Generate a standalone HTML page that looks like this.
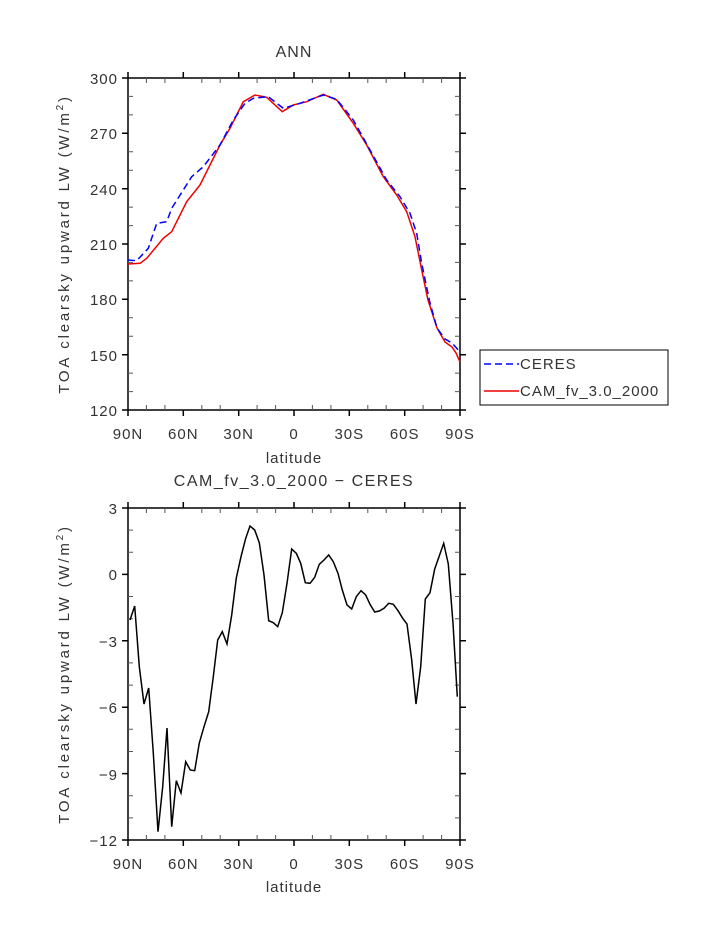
<!DOCTYPE html>
<html><head><meta charset="utf-8"><style>body{margin:0;background:#fff}svg{display:block}text{font-family:"Liberation Sans",sans-serif;font-size:15px;fill:#333;letter-spacing:1px}</style></head><body>
<svg width="723" height="935" viewBox="0 0 723 935" xmlns="http://www.w3.org/2000/svg">
<g stroke="#000" stroke-width="1.5" fill="none">
<rect x="128" y="78" width="332" height="332"/>
<rect x="128" y="508" width="332" height="332"/>
<path d="M128,78v-6M183.3,78v-6M238.7,78v-6M294,78v-6M349.3,78v-6M404.7,78v-6M460,78v-6M128,410v6M183.3,410v6M238.7,410v6M294,410v6M349.3,410v6M404.7,410v6M460,410v6
M128,78h-6M128,133.3h-6M128,188.7h-6M128,244h-6M128,299.3h-6M128,354.7h-6M128,410h-6M460,78h6M460,133.3h6M460,188.7h6M460,244h6M460,299.3h6M460,354.7h6M460,410h6
M128,508v-6M183.3,508v-6M238.7,508v-6M294,508v-6M349.3,508v-6M404.7,508v-6M460,508v-6M128,840v6M183.3,840v6M238.7,840v6M294,840v6M349.3,840v6M404.7,840v6M460,840v6
M128,508h-6M128,574.4h-6M128,640.8h-6M128,707.2h-6M128,773.6h-6M128,840h-6M460,508h6M460,574.4h6M460,640.8h6M460,707.2h6M460,773.6h6M460,840h6"/>
</g>
<g stroke="#555" stroke-width="1" fill="none">
<path d="M146.4,78v5M164.9,78v5M201.8,78v5M220.2,78v5M257.1,78v5M275.6,78v5M312.4,78v5M330.9,78v5M367.8,78v5M386.2,78v5M423.1,78v5M441.6,78v5
M146.4,410v-5M164.9,410v-5M201.8,410v-5M220.2,410v-5M257.1,410v-5M275.6,410v-5M312.4,410v-5M330.9,410v-5M367.8,410v-5M386.2,410v-5M423.1,410v-5M441.6,410v-5
M128,96.4h5M128,114.9h5M128,151.8h5M128,170.2h5M128,207.1h5M128,225.6h5M128,262.4h5M128,280.9h5M128,317.8h5M128,336.2h5M128,373.1h5M128,391.6h5
M460,96.4h-5M460,114.9h-5M460,151.8h-5M460,170.2h-5M460,207.1h-5M460,225.6h-5M460,262.4h-5M460,280.9h-5M460,317.8h-5M460,336.2h-5M460,373.1h-5M460,391.6h-5
M146.4,508v5M164.9,508v5M201.8,508v5M220.2,508v5M257.1,508v5M275.6,508v5M312.4,508v5M330.9,508v5M367.8,508v5M386.2,508v5M423.1,508v5M441.6,508v5
M146.4,840v-5M164.9,840v-5M201.8,840v-5M220.2,840v-5M257.1,840v-5M275.6,840v-5M312.4,840v-5M330.9,840v-5M367.8,840v-5M386.2,840v-5M423.1,840v-5M441.6,840v-5
M128,530.1h5M128,552.3h5M128,596.5h5M128,618.7h5M128,662.9h5M128,685.1h5M128,729.3h5M128,751.5h5M128,795.7h5M128,817.9h5
M460,530.1h-5M460,552.3h-5M460,596.5h-5M460,618.7h-5M460,662.9h-5M460,685.1h-5M460,729.3h-5M460,751.5h-5M460,795.7h-5M460,817.9h-5"/>
</g>
<polyline fill="none" stroke="#e00" stroke-width="1.5" points="128,264 140,263.3 146.7,258.3 163.3,238.3 171.7,231.7 186.7,201.7 200,185 220,145 230,128.3 243.3,101.7 255,95 266.7,97.3 282.3,111.7 293.3,105 306.7,101.7 323.3,94.3 336.7,100 353.3,123.3 366.7,145 383.3,176.7 396.7,195 406.7,211.7 415,236.7 421.7,270 428,300 437,328 445,342 452,347 456,353 460,362"/>
<polyline fill="none" stroke="#00f" stroke-width="1.5" stroke-dasharray="7,4" points="128,260 136.7,260.7 148.3,248.3 156.7,223.3 166.7,221.7 171.7,208.3 191.7,176.7 203.3,166.7 220,145 233.3,120 245,103.3 253.3,98.3 268.3,96.7 283.3,108.3 300,103.3 323.3,95 336.7,99.3 353.3,120 370,150 386.7,180 400,196.7 410,213.3 416.7,233.3 421.7,263.3 430,303 437,328 445,339 452,343 460,352"/>
<polyline fill="none" stroke="#000" stroke-width="1.5" points="130,620 134.7,606 139.3,666.7 144,704 148.7,688 153.3,753 158,831.7 162.7,786.7 167,728 171.7,826.7 176.3,780.7 181,793 185.7,761.7 190.3,770 194.7,770.7 199.3,743 204,726.7 208.7,711.7 213.3,676.7 217.7,640 222.3,631.7 227,644 231.7,615 236.3,578 241,556.7 245.7,538.3 250,526 254.7,530 259.3,542.7 264,575 268.7,620.7 273.3,622.7 277.7,626.7 282.3,612.7 287,583.3 291.7,549 296.3,553.3 300.7,563.3 305.3,582.7 310,583.3 314.7,577.3 319.3,564.3 324,560 328.7,555 333.3,561.7 338,573.3 342.3,590 347,605 351.7,609 356.3,596.7 361,590.7 365.7,595 370,604.3 374.7,612 379.3,611 384,608.3 388.7,603.3 393.3,604.3 398,610.7 402.7,618.3 407,624 411.7,660 416,704 420.7,666.7 425.3,599 430,592.7 434.7,569 439,556.7 443.7,543.3 448.3,564 453,623.3 457.3,696.7"/>
<text x="294" y="57" text-anchor="middle" style="font-size:16px">ANN</text>
<text x="294" y="486" text-anchor="middle" style="font-size:16px;letter-spacing:1.5px">CAM_fv_3.0_2000 − CERES</text>
<g text-anchor="end">
<text x="118" y="84">300</text><text x="118" y="139">270</text><text x="118" y="195">240</text><text x="118" y="250">210</text><text x="118" y="305">180</text><text x="118" y="361">150</text><text x="118" y="416">120</text>
<text x="118" y="514">3</text><text x="118" y="580">0</text><text x="118" y="647">−3</text><text x="118" y="713">−6</text><text x="118" y="780">−9</text><text x="118" y="846">−12</text>
</g>
<g text-anchor="middle">
<text x="128" y="439">90N</text><text x="183.3" y="439">60N</text><text x="238.7" y="439">30N</text><text x="294" y="439">0</text><text x="349.3" y="439">30S</text><text x="404.7" y="439">60S</text><text x="460" y="439">90S</text>
<text x="294" y="463">latitude</text>
<text x="128" y="869">90N</text><text x="183.3" y="869">60N</text><text x="238.7" y="869">30N</text><text x="294" y="869">0</text><text x="349.3" y="869">30S</text><text x="404.7" y="869">60S</text><text x="460" y="869">90S</text>
<text x="294" y="892">latitude</text>
</g>
<text transform="translate(69,244) rotate(-90)" text-anchor="middle" style="letter-spacing:2.8px">TOA clearsky upward LW (W/m<tspan dy="-6" style="font-size:10px">2</tspan><tspan dy="6">)</tspan></text>
<text transform="translate(69,674) rotate(-90)" text-anchor="middle" style="letter-spacing:2.8px">TOA clearsky upward LW (W/m<tspan dy="-6" style="font-size:10px">2</tspan><tspan dy="6">)</tspan></text>
<rect x="480" y="350" width="188" height="55" fill="none" stroke="#000" stroke-width="1"/>
<line x1="484" y1="364" x2="519" y2="364" stroke="#00f" stroke-width="1.5" stroke-dasharray="7,4"/>
<line x1="484" y1="391" x2="519" y2="391" stroke="#e00" stroke-width="1.5"/>
<text x="520" y="369">CERES</text>
<text x="520" y="396">CAM_fv_3.0_2000</text>
</svg>
</body></html>
